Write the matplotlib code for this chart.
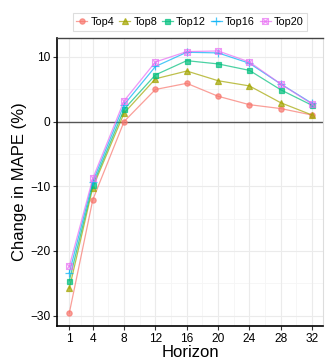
import numpy as np
import matplotlib
matplotlib.use("Agg")
import matplotlib.pyplot as plt
from matplotlib.path import Path

plt.rcParams['font.family'] = ['Liberation Sans', 'DejaVu Sans']

horizons = [1, 4, 8, 12, 16, 20, 24, 28, 32]
labels = ["Top4", "Top8", "Top12", "Top16", "Top20"]
top4 = [-29.6, -12.1, 0.0, 4.95, 5.9, 3.9, 2.6, 2.0, 1.0]
top8 = [-25.8, -10.2, 1.3, 6.6, 7.8, 6.3, 5.5, 2.9, 1.0]
top12 = [-24.6, -9.8, 1.9, 7.2, 9.4, 8.9, 7.9, 4.9, 2.5]
top16 = [-23.4, -9.3, 2.6, 8.5, 10.7, 10.6, 9.0, 5.8, 2.8]
top20 = [-22.4, -8.8, 3.2, 9.2, 10.8, 10.9, 9.2, 5.8, 2.7]
series = [top4, top8, top12, top16, top20]

colors = ["#F8766D", "#A3A500", "#00BF7D", "#00B0F6", "#E76BF3"]

# square with a cross inside (ggplot shape 7)
boxcross = Path([(-1, -1), (1, -1), (1, 1), (-1, 1), (-1, -1),
                 (-1, -1), (1, 1), (-1, 1), (1, -1)],
                [Path.MOVETO, Path.LINETO, Path.LINETO, Path.LINETO, Path.CLOSEPOLY,
                 Path.MOVETO, Path.LINETO, Path.MOVETO, Path.LINETO])
markers = ["o", "^", "s", "+", boxcross]
msizes = [3.8, 4.2, 3.6, 5.5, 4.2]
mfcs = [None, None, None, None, "none"]

fig = plt.figure(figsize=(3.27, 3.6), dpi=100)
ax = fig.add_axes([0.1743, 0.0944, 0.8135, 0.80])

# grid
for x in [2.5, 6, 10, 14, 18, 22, 26, 30]:
    ax.axvline(x, color="#F5F5F5", lw=0.6, zorder=0)
for y in [-25, -15, -5, 5]:
    ax.axhline(y, color="#F5F5F5", lw=0.6, zorder=0)
for x in horizons:
    ax.axvline(x, color="#EBEBEB", lw=0.8, zorder=0)
for y in [-30, -20, -10, 10]:
    ax.axhline(y, color="#EBEBEB", lw=0.8, zorder=0)
ax.axhline(0, color="#555555", lw=1.0, zorder=1)

for vals, lab, c, m, ms, fc in zip(series, labels, colors, markers, msizes, mfcs):
    kw = {} if fc is None else {"mfc": fc}
    ax.plot(horizons, vals, color=c, alpha=0.7, lw=0.9, marker=m, ms=ms,
            mew=0.9, label=lab, zorder=3, **kw)

ax.set_xlim(-0.57, 33.4)
ax.set_ylim(-31.6, 12.9)
ax.set_xticks(horizons)
ax.set_yticks([-30, -20, -10, 0, 10])
ax.set_yticklabels(["\u221230", "\u221220", "\u221210", "0", "10"])
ax.tick_params(axis="both", labelsize=8.6, length=3, width=0.8, color="#333333",
               labelcolor="black", pad=2)
for s in ["left", "bottom"]:
    ax.spines[s].set_color("black")
    ax.spines[s].set_linewidth(1.2)
ax.spines["top"].set_color("#444444")
ax.spines["top"].set_linewidth(1.0)
ax.spines["right"].set_color("#DDDDDD")
ax.spines["right"].set_linewidth(0.8)

ax.set_xlabel("Horizon", fontsize=12, labelpad=0)
ax.set_ylabel("Change in MAPE (%)", fontsize=12, labelpad=2)

leg = fig.legend(loc="center", bbox_to_anchor=(0.581, 0.939), ncol=5,
                 fontsize=7.8, handlelength=1.0, handletextpad=0.3,
                 columnspacing=0.45, borderpad=0.35, fancybox=False,
                 edgecolor="#DDDDDD", framealpha=1)
leg.get_frame().set_linewidth(0.8)

fig.savefig("out.png", dpi=100)
